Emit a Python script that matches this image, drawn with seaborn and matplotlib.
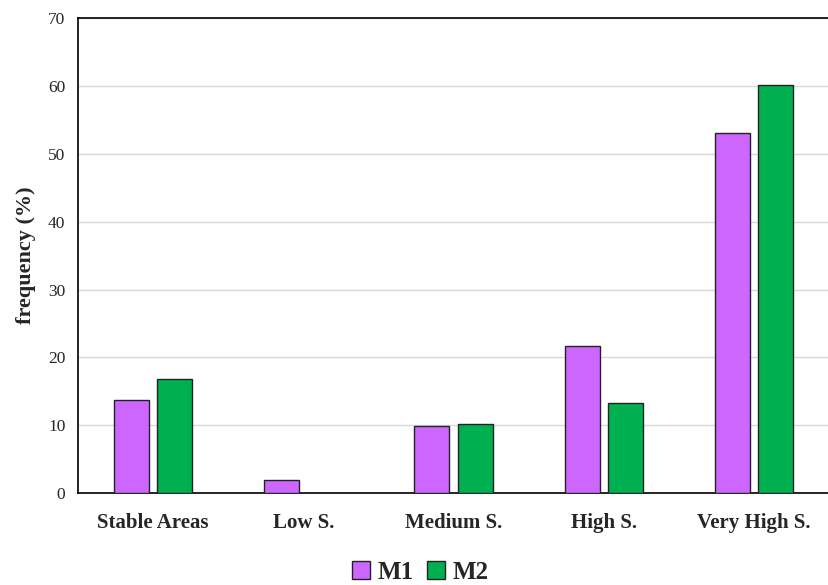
import matplotlib
matplotlib.use("Agg")
import matplotlib.pyplot as plt
import seaborn as sns
import pandas as pd

categories = ["Stable Areas", "Low S.", "Medium S.", "High S.", "Very High S."]
m1_values = [13.7, 1.9, 9.9, 21.7, 53.0]
m2_values = [16.8, 0.0, 10.2, 13.3, 60.1]
series_names = ["M1", "M2"]
colors = ["#CC66FF", "#00B050"]

df = pd.DataFrame({
    "category": categories * 2,
    "value": m1_values + m2_values,
    "model": [series_names[0]] * len(categories) + [series_names[1]] * len(categories),
})

sns.set_style("white")
plt.rcParams["font.family"] = ["Liberation Serif", "DejaVu Serif"]

fig = plt.figure(figsize=(8.29, 5.85), dpi=100)
ax = fig.add_axes([0.094, 0.157, 0.906, 0.812])

sns.barplot(data=df, x="category", y="value", hue="model", order=categories,
            hue_order=series_names, palette=colors, saturation=1,
            width=0.575, gap=0.19, edgecolor="#222222", linewidth=1.0,
            ax=ax, zorder=3)

ax.set_ylim(0, 70)
ax.set_yticks(range(0, 71, 10))
ax.yaxis.grid(True, color="#d9d9d9", linewidth=1.0, zorder=0)
ax.set_axisbelow(True)
ax.tick_params(axis="both", length=0)
ax.tick_params(axis="y", labelsize=12.5, pad=9)
ax.tick_params(axis="x", labelsize=15, pad=14)
for lbl in ax.get_xticklabels():
    lbl.set_fontweight("bold")
ax.set_xlabel("")
ax.set_ylabel("frequency (%)", fontsize=16, fontweight="bold", labelpad=9)

for side in ["left", "bottom", "top"]:
    ax.spines[side].set_visible(True)
    ax.spines[side].set_color("black")
    ax.spines[side].set_linewidth(1.2)
ax.spines["right"].set_visible(False)

handles, labels = ax.get_legend_handles_labels()
ax.legend_.remove()
fig.legend(handles, labels, loc="center", bbox_to_anchor=(0.507, 0.022), ncol=2,
           frameon=False, handlelength=0.75, handleheight=0.75,
           handletextpad=0.3, columnspacing=0.5,
           prop={"weight": "bold", "size": 18})

fig.savefig("out.png", dpi=100)
